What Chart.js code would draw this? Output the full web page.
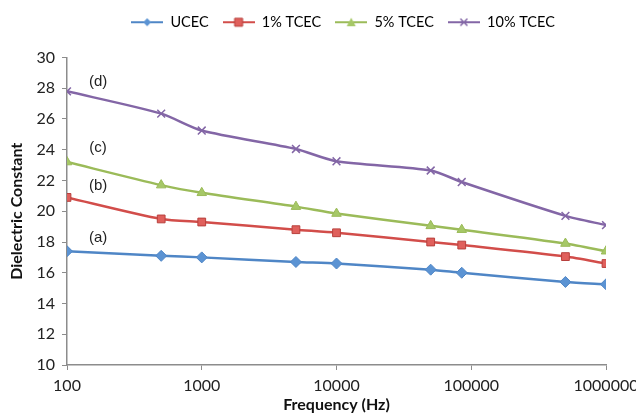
<!DOCTYPE html>
<html>
<head>
<meta charset="utf-8">
<script src="https://cdn.jsdelivr.net/npm/chart.js@4"></script>
<style>
  html, body { margin: 0; padding: 0; background: #fff; }
  #wrap { width: 636px; height: 414px; position: relative; }
</style>
</head>
<body>
<div id="wrap"><canvas id="chart"></canvas></div>
<script>
// frequency points (Hz)
const freqs = [100, 500, 1000, 5000, 10000, 50000, 85000, 500000, 1000000];

// dielectric constant per sample
const ucec = [17.4, 17.1, 17.0, 16.7, 16.6, 16.2, 16.0, 15.4, 15.25];
const tcec1 = [20.9, 19.5, 19.3, 18.8, 18.6, 18.0, 17.8, 17.05, 16.6];
const tcec5 = [23.2, 21.7, 21.2, 20.3, 19.85, 19.05, 18.8, 17.9, 17.4];
const tcec10 = [27.8, 26.35, 25.25, 24.05, 23.25, 22.65, 21.9, 19.7, 19.1];

const seriesNames = ['UCEC', '1% TCEC', '5% TCEC', '10% TCEC'];
const xTicks = [100, 1000, 10000, 100000, 1000000];

// curve labels (a)-(d)
const annotText = ['(a)', '(b)', '(c)', '(d)'];
const annotFreq = 170;
const annotVal = [18.3, 21.66, 24.1, 28.4];

const colors = ['#4F86C6', '#D24D4A', '#9BBB59', '#8366A6'];
const fills = ['#5B93D3', '#E0605C', '#A6C867', '#8366A6'];
const markers = ['rectRot', 'rect', 'triangle', 'crossRot'];

const FONT = 'Lato, "Open Sans", sans-serif';

/**
 * Small legend swatch: a line with the marker in the middle
 */
function legendSwatch(i) {
  const c = document.createElement('canvas');
  c.width = 32;
  c.height = 12;
  const g = c.getContext('2d');
  g.strokeStyle = colors[i];
  g.lineWidth = 2;
  g.beginPath();
  g.moveTo(0, 6);
  g.lineTo(32, 6);
  g.stroke();
  g.fillStyle = fills[i];
  g.beginPath();
  if (i === 0) {
    g.moveTo(16, 2); g.lineTo(20, 6); g.lineTo(16, 10); g.lineTo(12, 6);
    g.closePath(); g.fill();
  } else if (i === 1) {
    g.rect(12, 2, 8, 8); g.fill();
    g.strokeStyle = '#B8403D'; g.lineWidth = 1; g.stroke();
  } else if (i === 2) {
    g.moveTo(16, 1.5); g.lineTo(20.5, 10); g.lineTo(11.5, 10);
    g.closePath(); g.fill();
  } else {
    g.strokeStyle = colors[i]; g.lineWidth = 1.5;
    g.moveTo(12.5, 2.5); g.lineTo(19.5, 9.5);
    g.moveTo(19.5, 2.5); g.lineTo(12.5, 9.5);
    g.stroke();
  }
  return c;
}

const swatches = seriesNames.map((_, i) => legendSwatch(i));

function toPoints(values) {
  return freqs.map((f, i) => ({ x: f, y: values[i] }));
}

const allSeries = [ucec, tcec1, tcec5, tcec10];

const datasets = allSeries.map((vals, i) => ({
  label: seriesNames[i],
  data: toPoints(vals),
  borderColor: colors[i],
  backgroundColor: fills[i],
  borderWidth: 2.5,
  tension: 0.25,
  pointStyle: markers[i],
  pointRadius: 5.5,
  pointBorderColor: i === 1 ? '#B8403D' : colors[i],
  pointBorderWidth: i === 3 ? 1.5 : 1,
  fill: false
}));

const annotPlugin = {
  id: 'curveLabels',
  afterLayout(chart) {
    // nudge the legend up and to the right, like the original sheet
    const lg = chart.legend;
    if (lg) {
      lg.top -= 18; lg.bottom -= 18;
      lg.left += 40; lg.right += 40;
    }
  },
  afterDatasetsDraw(chart) {
    const ctx = chart.ctx;
    const xs = chart.scales.x;
    const ys = chart.scales.y;
    ctx.save();
    ctx.font = '15px "Liberation Sans", Arial, sans-serif';
    ctx.fillStyle = '#222';
    ctx.textAlign = 'center';
    ctx.textBaseline = 'middle';
    annotText.forEach((t, i) => {
      ctx.fillText(t, xs.getPixelForValue(annotFreq), ys.getPixelForValue(annotVal[i]));
    });
    ctx.restore();
  }
};

new Chart(document.getElementById('chart'), {
  type: 'line',
  data: { datasets: datasets },
  plugins: [annotPlugin],
  options: {
    responsive: true,
    maintainAspectRatio: false,
    animation: false,
    layout: { padding: { left: 0, right: 30, top: 19, bottom: 0 } },
    plugins: {
      tooltip: { enabled: false },
      legend: {
        display: true,
        position: 'top',
        labels: {
          usePointStyle: true,
          pointStyleWidth: 32,
          padding: 14,
          color: '#222',
          font: { family: FONT, size: 14.5 },
          generateLabels(chart) {
            return chart.data.datasets.map((ds, i) => ({
              text: ds.label,
              pointStyle: swatches[i],
              fillStyle: fills[i],
              strokeStyle: colors[i],
              lineWidth: 0,
              hidden: false,
              datasetIndex: i
            }));
          }
        }
      }
    },
    scales: {
      x: {
        type: 'logarithmic',
        min: 100,
        max: 1000000,
        afterBuildTicks(scale) {
          scale.ticks = xTicks.map(v => ({ value: v }));
        },
        afterFit(scale) {
          scale.height = 49;
          scale.paddingLeft = 0;
          scale.paddingRight = 0;
        },
        ticks: {
          autoSkip: false,
          maxRotation: 0,
          padding: 6,
          color: '#222',
          font: { family: FONT, size: 16 },
          callback: v => String(v)
        },
        grid: { display: true, drawOnChartArea: false, drawTicks: true, tickLength: 5, color: '#8C8C8C' },
        border: { color: '#8C8C8C', width: 1.5 },
        title: {
          display: true,
          text: 'Frequency (Hz)',
          color: '#111',
          font: { family: FONT, size: 16, weight: 'bold' },
          padding: { top: 0, bottom: 0 }
        }
      },
      y: {
        min: 10,
        max: 30,
        afterFit(scale) {
          scale.width = 67;
        },
        ticks: {
          stepSize: 2,
          padding: 7,
          color: '#222',
          font: { family: FONT, size: 16 }
        },
        grid: { display: true, drawOnChartArea: false, drawTicks: true, tickLength: 5, color: '#8C8C8C' },
        border: { color: '#8C8C8C', width: 1.5 },
        title: {
          display: true,
          text: 'Dielectric Constant',
          color: '#111',
          font: { family: FONT, size: 16, weight: 'bold' },
          padding: { top: 7, bottom: 0 }
        }
      }
    }
  }
});
</script>
</body>
</html>
